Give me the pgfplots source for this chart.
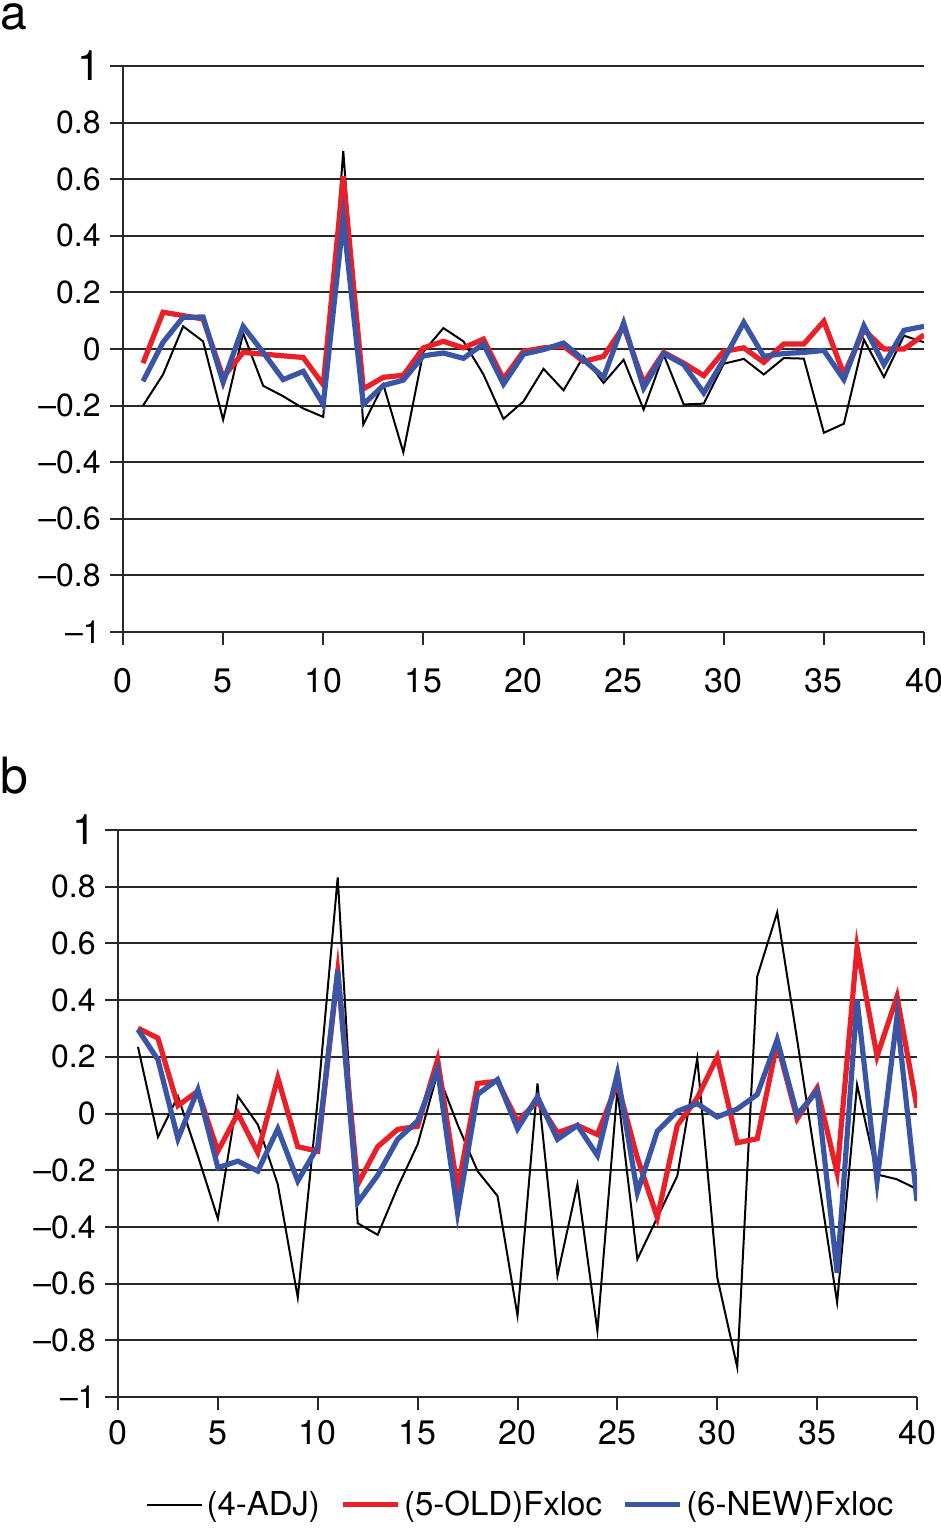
\documentclass[border=0pt]{standalone}
\usepackage{fontspec}
\setmainfont{TeX Gyre Heros}
\usepackage{pgfplots}
\usepackage{pgfplotstable}
\pgfplotsset{compat=1.18}
\definecolor{cred}{RGB}{233,32,40}
\definecolor{cblue}{RGB}{58,84,166}
\definecolor{cgrid}{RGB}{40,40,40}

\pgfplotstableread{
x adj old new
1 -0.200 -0.050 -0.114
2 -0.090 0.130 0.024
3 0.080 0.118 0.112
4 0.027 0.106 0.113
5 -0.250 -0.100 -0.118
6 0.056 -0.012 0.080
7 -0.130 -0.018 -0.012
8 -0.167 -0.024 -0.108
9 -0.210 -0.030 -0.079
10 -0.240 -0.126 -0.196
11 0.700 0.610 0.459
12 -0.267 -0.141 -0.196
13 -0.126 -0.100 -0.129
14 -0.365 -0.093 -0.110
15 -0.010 0.004 -0.024
16 0.074 0.027 -0.014
17 0.027 0.004 -0.033
18 -0.090 0.035 0.018
19 -0.247 -0.106 -0.124
20 -0.185 -0.008 -0.018
21 -0.070 0.004 -0.002
22 -0.146 0.010 0.021
23 -0.026 -0.044 -0.038
24 -0.120 -0.026 -0.100
25 -0.038 0.080 0.092
26 -0.214 -0.120 -0.138
27 -0.020 -0.012 -0.016
28 -0.196 -0.050 -0.055
29 -0.193 -0.094 -0.155
30 -0.052 -0.008 -0.038
31 -0.035 0.004 0.094
32 -0.090 -0.047 -0.026
33 -0.032 0.018 -0.016
34 -0.034 0.018 -0.012
35 -0.296 0.098 -0.005
36 -0.264 -0.090 -0.108
37 0.033 0.068 0.082
38 -0.099 0.000 -0.055
39 0.047 0.000 0.066
40 0.024 0.050 0.080
}\tablea

\pgfplotstableread{
x adj old new
1 0.235 0.301 0.296
2 -0.083 0.266 0.190
3 0.061 0.028 -0.089
4 -0.150 0.079 0.084
5 -0.371 -0.133 -0.191
6 0.061 0.000 -0.168
7 -0.039 -0.138 -0.203
8 -0.250 0.126 -0.054
9 -0.649 -0.117 -0.238
10 0.050 -0.133 -0.117
11 0.833 0.500 0.507
12 -0.387 -0.250 -0.314
13 -0.428 -0.117 -0.218
14 -0.260 -0.056 -0.091
15 -0.109 -0.045 -0.026
16 0.143 0.190 0.155
17 -0.039 -0.267 -0.350
18 -0.203 0.106 0.067
19 -0.291 0.114 0.120
20 -0.713 -0.027 -0.054
21 0.106 0.043 0.059
22 -0.572 -0.068 -0.091
23 -0.250 -0.042 -0.042
24 -0.766 -0.074 -0.148
25 0.084 0.106 0.141
26 -0.514 -0.156 -0.279
27 -0.367 -0.367 -0.062
28 -0.220 -0.042 0.008
29 0.194 0.055 0.035
30 -0.578 0.200 -0.012
31 -0.895 -0.103 0.016
32 0.483 -0.089 0.067
33 0.709 0.249 0.260
34 0.260 -0.019 -0.004
35 -0.200 0.090 0.079
36 -0.666 -0.209 -0.561
37 0.102 0.587 0.401
38 -0.215 0.202 -0.238
39 -0.232 0.413 0.343
40 -0.267 0.020 -0.309
}\tableb

\pgfplotsset{
  panel/.style={
    scale only axis,
    xmin=0, xmax=40, ymin=-1, ymax=1,
    axis x line*=bottom, axis y line*=left,
    xtick={0,5,10,15,20,25,30,35,40},
    xticklabels={0,5,10,15,20,25,30,35,40},
    ytick={-1,-0.8,-0.6,-0.4,-0.2,0,0.2,0.4,0.6,0.8,1},
    yticklabels={–1,–0.8,–0.6,–0.4,–0.2,0,0.2,0.4,0.6,0.8,{\fontsize{21bp}{21bp}\selectfont 1}},
    ymajorgrids,
    grid style={cgrid, line width=1bp},
    axis line style={cgrid, line width=1bp},
    tick style={cgrid, line width=1bp},
    tick align=outside,
    major tick length=6.5bp,
    yticklabel style={font=\fontsize{16bp}{16bp}\selectfont, inner sep=0pt, anchor=east, xshift=-4.5bp},
    legend image code/.code={\draw[#1] (0bp,0bp) -- (27.5bp,0bp);},
  },
  adj/.style={black, line width=1bp},
  old/.style={cred, line width=2.6bp},
  new/.style={cblue, line width=2.6bp},
}

\begin{document}
\begin{tikzpicture}
\path[use as bounding box] (0,0) rectangle (470.5bp,-764bp);
\node[anchor=base west, inner sep=0pt, font=\fontsize{24bp}{24bp}\selectfont] at (0bp,-14.5bp) {a};
\node[anchor=base west, inner sep=0pt, font=\fontsize{25bp}{25bp}\selectfont] at (0bp,-396.5bp) {b};

\begin{axis}[panel, width=400.5bp, height=283bp, at={(61.5bp,-316bp)}, anchor=south west,
  xticklabel style={font=\fontsize{17bp}{17bp}\selectfont, inner sep=0pt, anchor=north, yshift=-11.5bp}]
\addplot[adj] table[x=x, y=adj] {\tablea};
\addplot[old] table[x=x, y=old] {\tablea};
\addplot[new] table[x=x, y=new] {\tablea};
\end{axis}

\begin{axis}[panel, width=399.5bp, height=283.5bp, at={(59bp,-698.5bp)}, anchor=south west,
  xticklabel style={font=\fontsize{17bp}{17bp}\selectfont, inner sep=0pt, anchor=north, yshift=-5bp},
  legend columns=3,
  legend style={at={(0.505,-0.19)}, anchor=center, draw=none, fill=none,
    font=\fontsize{16.5bp}{16.5bp}\selectfont,
    /tikz/every even column/.append style={column sep=8bp},
    legend cell align=left},
  ]
\addplot[adj] table[x=x, y=adj] {\tableb};
\addlegendentry{(4-ADJ)}
\addplot[old] table[x=x, y=old] {\tableb};
\addlegendentry{(5-OLD)Fxloc}
\addplot[new] table[x=x, y=new] {\tableb};
\addlegendentry{(6-NEW)Fxloc}
\end{axis}
\end{tikzpicture}
\end{document}
